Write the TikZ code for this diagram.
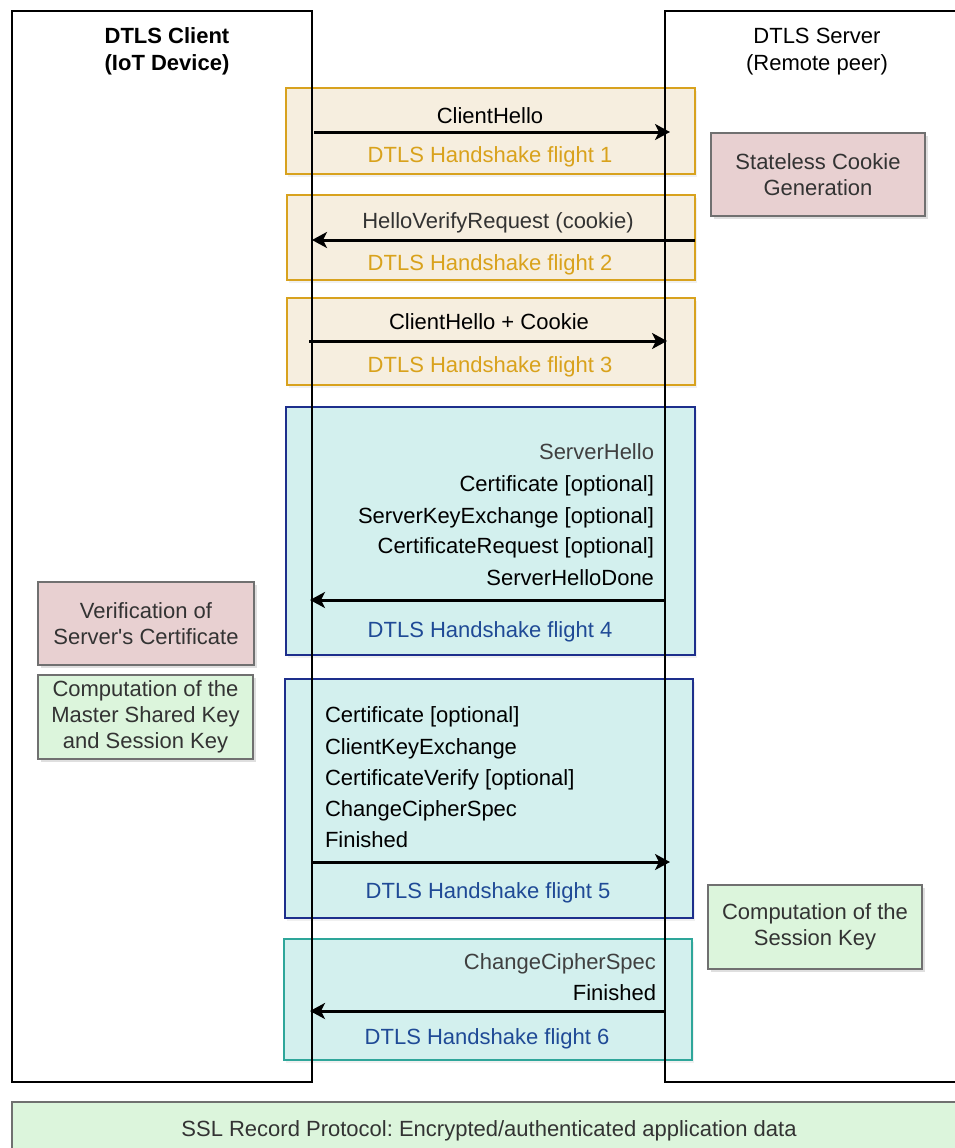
\documentclass[tikz,border=0pt]{standalone}
\usepackage{fontspec}
\setmainfont{Liberation Sans}
\usetikzlibrary{arrows.meta,shadows}
\frenchspacing
\definecolor{beigefill}{HTML}{F6EEDF}
\definecolor{goldline}{HTML}{D8A21E}
\definecolor{goldtext}{HTML}{D9A21C}
\definecolor{cyanfill}{HTML}{D3F0EE}
\definecolor{navyline}{HTML}{1D2F8C}
\definecolor{bluetext}{HTML}{1F4A96}
\definecolor{tealline}{HTML}{2EA69A}
\definecolor{pinkfill}{HTML}{E8D0D1}
\definecolor{greenfill}{HTML}{DCF5DC}
\definecolor{boxgray}{HTML}{707070}
\definecolor{darktext}{HTML}{333333}
\definecolor{graytext}{HTML}{404040}
\begin{document}
\begin{tikzpicture}[x=1pt,y=-1pt,
  every node/.style={font=\fontsize{22}{26}\selectfont, inner sep=0pt, outer sep=0pt},
  lifeline/.style={draw=black, line width=1.4pt, rectangle},
  flightbox/.style={rectangle, line width=1.4pt, drop shadow={shadow xshift=2pt, shadow yshift=-3pt, opacity=0.12}},
  yellowflight/.style={flightbox, draw=goldline, fill=beigefill},
  blueflight/.style={flightbox, draw=navyline, fill=cyanfill},
  tealflight/.style={flightbox, draw=tealline, fill=cyanfill},
  sidebox/.style={rectangle, draw=boxgray, line width=1.4pt, align=center, text=darktext,
    minimum width=214pt, minimum height=83pt,
    drop shadow={shadow xshift=3pt, shadow yshift=-3pt, opacity=0.25}},
  msg/.style={line width=3pt, -{Stealth[length=15pt,width=16pt,inset=4pt]}},
  msgtext/.style={anchor=base},
  goldlabel/.style={anchor=base, text=goldtext},
  bluelabel/.style={anchor=base, text=bluetext}
]
\useasboundingbox (0,0) rectangle (954,1148);

% flight boxes
\node[yellowflight, minimum width=409pt, minimum height=86pt] (f1) at (490.5,131) {};
\node[yellowflight, minimum width=408pt, minimum height=85pt] (f2) at (491,237.5) {};
\node[yellowflight, minimum width=408pt, minimum height=87pt] (f3) at (491,341.5) {};
\node[blueflight, minimum width=409pt, minimum height=248pt] (f4) at (490.5,531) {};
\node[blueflight, minimum width=408pt, minimum height=239pt] (f5) at (489,798.5) {};
\node[tealflight, minimum width=408pt, minimum height=121pt] (f6) at (488,999.5) {};

% lifelines
\node[lifeline, minimum width=300pt, minimum height=1071pt] (client) at (162,546.5) {};
\node[lifeline, minimum width=320pt, minimum height=1071pt] (server) at (825,546.5) {};

\node[align=center, font=\fontsize{22}{27}\selectfont\bfseries] (clientlabel) at (167,51.5) {DTLS Client\\(IoT Device)};
\node[align=center, font=\fontsize{22}{27}\selectfont] (serverlabel) at (817,51.5) {DTLS Server\\(Remote peer)};

% flight 1
\node[msgtext] (m1) at (490,123) {ClientHello};
\coordinate (a1s) at (314,132);
\coordinate (a1e) at (670,132);
\draw[msg] (a1s) -- (a1e);
\node[goldlabel] (l1) at (490,162) {DTLS Handshake flight 1};

% flight 2
\node[msgtext, text=darktext] (m2) at (498,228) {HelloVerifyRequest (cookie)};
\coordinate (a2s) at (695,240);
\coordinate (a2e) at (312,240);
\draw[msg] (a2s) -- (a2e);
\node[goldlabel] (l2) at (490,270) {DTLS Handshake flight 2};

% flight 3
\node[msgtext] (m3) at (489,329) {ClientHello + Cookie};
\coordinate (a3s) at (309,341);
\coordinate (a3e) at (667,341);
\draw[msg] (a3s) -- (a3e);
\node[goldlabel] (l3) at (490,372) {DTLS Handshake flight 3};

% flight 4
\node[anchor=base east, text=graytext] (m4a) at (654,459) {ServerHello};
\node[anchor=base east] (m4b) at (654,491) {Certificate [optional]};
\node[anchor=base east] (m4c) at (654,523) {ServerKeyExchange [optional]};
\node[anchor=base east] (m4d) at (654,553) {CertificateRequest [optional]};
\node[anchor=base east] (m4e) at (654,585) {ServerHelloDone};
\coordinate (a4s) at (665,600);
\coordinate (a4e) at (310,600);
\draw[msg] (a4s) -- (a4e);
\node[bluelabel] (l4) at (490,637) {DTLS Handshake flight 4};

% flight 5
\node[anchor=base west] (m5a) at (325,722) {Certificate [optional]};
\node[anchor=base west] (m5b) at (325,754) {ClientKeyExchange};
\node[anchor=base west] (m5c) at (325,785) {CertificateVerify [optional]};
\node[anchor=base west] (m5d) at (325,816) {ChangeCipherSpec};
\node[anchor=base west] (m5e) at (325,847) {Finished};
\coordinate (a5s) at (312,862);
\coordinate (a5e) at (670,862);
\draw[msg] (a5s) -- (a5e);
\node[bluelabel] (l5) at (488,898) {DTLS Handshake flight 5};

% flight 6
\node[anchor=base east, text=graytext] (m6a) at (656,969) {ChangeCipherSpec};
\node[anchor=base east] (m6b) at (656,1000) {Finished};
\coordinate (a6s) at (665,1011);
\coordinate (a6e) at (310,1011);
\draw[msg] (a6s) -- (a6e);
\node[bluelabel] (l6) at (487,1044) {DTLS Handshake flight 6};

% side boxes
\node[sidebox, fill=pinkfill] (cookie) at (818,174.5) {Stateless Cookie\\Generation};
\node[sidebox, fill=pinkfill, minimum width=216pt] (verify) at (146,623.5) {Verification of\\Server\textquotesingle s Certificate};
\node[sidebox, fill=greenfill, minimum width=215pt, minimum height=84pt] (master) at (145.5,717) {Computation of the\\Master Shared Key\\and Session Key};
\node[sidebox, fill=greenfill, minimum height=84pt] (session) at (815,927) {Computation of the\\Session Key};

% record protocol bar
\node[rectangle, draw=boxgray, line width=1.4pt, fill=greenfill, minimum width=960pt, minimum height=60pt] (ssl) at (492,1132) {};
\node[anchor=base, text=darktext] (ssltext) at (489,1136) {SSL Record Protocol: Encrypted/authenticated application data};
\end{tikzpicture}
\end{document}
